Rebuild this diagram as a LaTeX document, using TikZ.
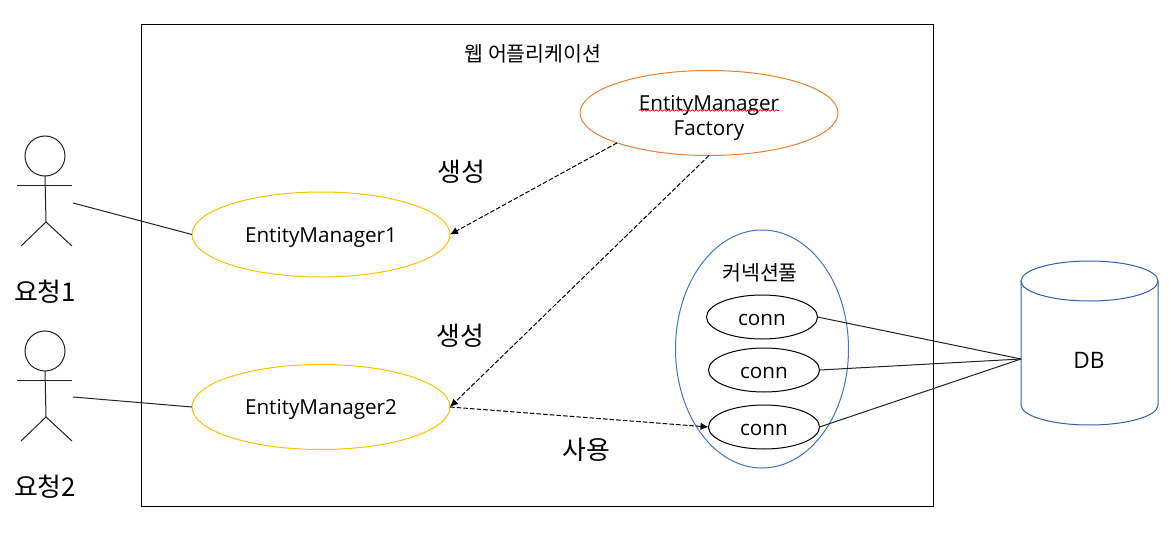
\documentclass[tikz,border=0pt]{standalone}
\usepackage{fontspec}
\setmainfont{Open Sans}
\newfontfamily\krfont{Noto Sans CJK KR}
\usetikzlibrary{arrows.meta,shapes.geometric,decorations.pathmorphing}
\definecolor{boxorange}{HTML}{ED7D31}
\definecolor{boxyellow}{HTML}{FFC000}
\definecolor{boxblue}{HTML}{4472C4}
\definecolor{dbblue}{HTML}{2F5FAF}
\definecolor{linegrey}{HTML}{222222}
\tikzset{
  x=0.75pt,y=-0.75pt,
  every node/.style={inner sep=0pt,outer sep=0pt,text=black},
  oval/.style n args={3}{ellipse,draw=#3,line width=0.75pt,minimum width=#1*0.75pt,minimum height=#2*0.75pt,align=center},
  emoval/.style={oval={258}{85}{boxyellow}},
  connoval/.style={oval={111}{44}{black},text height=12pt},
  latinlabel/.style={font=\fontsize{15.5pt}{18.75pt}\selectfont,text depth=0pt},
  krlarge/.style={font=\krfont\fontsize{19.4pt}{24pt}\selectfont},
  krsmall/.style={font=\krfont\fontsize{15.4pt}{20pt}\selectfont},
  wire/.style={line width=0.75pt,draw=linegrey},
  usesline/.style={line width=0.75pt,draw=black,dash pattern=on 3.5pt off 1.5pt,-{Latex[length=6pt,width=5.5pt]}},
  figure/.style={line width=0.75pt,draw=linegrey},
}
\newcommand{\stickfigure}[2]{%
  \begin{scope}[shift={(#1,#2)}]
    \draw[figure] (0,0) circle (20);
    \draw[figure] (-28,29) -- (27,29);
    \draw[figure] (0,20) -- (1,66);
    \draw[figure] (-24,90) -- (1,66) -- (27,90);
  \end{scope}}
\begin{document}
\begin{tikzpicture}
  \useasboundingbox (0,0) rectangle (1175,535);

  % application boundary
  \node[draw=black,line width=0.75pt,minimum width=792*0.75pt,minimum height=481*0.75pt] (app) at (537,265.5) {};
  \node[krsmall] (apptitle) at (533,54) {웹 어플리케이션};

  % clients
  \stickfigure{45}{156}
  \stickfigure{45}{351}
  \coordinate (client1) at (73,203);
  \coordinate (client2) at (73,397);
  \node[krlarge] (req1) at (45,292) {요청1};
  \node[krlarge] (req2) at (45,487) {요청2};

  % entity managers and their factory
  \node[oval={258}{85}{boxorange},latinlabel] (factory) at (709,113) {\rule{0pt}{15pt}EntityManager\\Factory};
  \draw[red!85!black,line width=0.5pt,decorate,decoration={snake,amplitude=0.6pt,segment length=3pt}]
    (639,110.5) -- (779,110.5);
  \node[emoval,latinlabel] (em1) at (321,234.5) {EntityManager1};
  \node[emoval,latinlabel] (em2) at (321,407) {EntityManager2};

  % connection pool
  \node[oval={173}{238}{boxblue}] (pool) at (762,349) {};
  \node[krsmall] (pooltitle) at (760,273) {커넥션풀};
  \node[connoval,latinlabel] (conn1) at (762,317) {conn};
  \node[connoval,latinlabel] (conn2) at (764,370) {conn};
  \node[connoval,latinlabel] (conn3) at (764,427) {conn};

  % database
  \draw[dbblue,line width=0.75pt]
    (1021,281) -- (1021,405)
    arc[start angle=180,end angle=0,x radius=68.5,y radius=20]
    -- (1158,281);
  \draw[dbblue,line width=0.75pt] (1089.5,281) ellipse[x radius=68.5,y radius=20];
  \node[font=\fontsize{17pt}{20pt}\selectfont] (db) at (1089,360) {DB};
  \coordinate (dbport) at (1021,359);

  % request links
  \draw[wire] (client1) -- (em1.west);
  \draw[wire] (client2) -- (em2.west);

  % creation and use
  \draw[usesline] (factory.198.6) -- (em1.east);
  \draw[usesline] (factory.south) -- (em2.east);
  \draw[usesline] (em2.east) -- (conn3.west);
  \node[krlarge] (made1) at (461,171.5) {생성};
  \node[krlarge] (made2) at (460,335.5) {생성};
  \node[krlarge] (used) at (586,450) {사용};

  % pool to database
  \draw[wire] (conn1.east) -- (dbport);
  \draw[wire] (conn2.east) -- (dbport);
  \draw[wire] (conn3.east) -- (dbport);
\end{tikzpicture}
\end{document}
